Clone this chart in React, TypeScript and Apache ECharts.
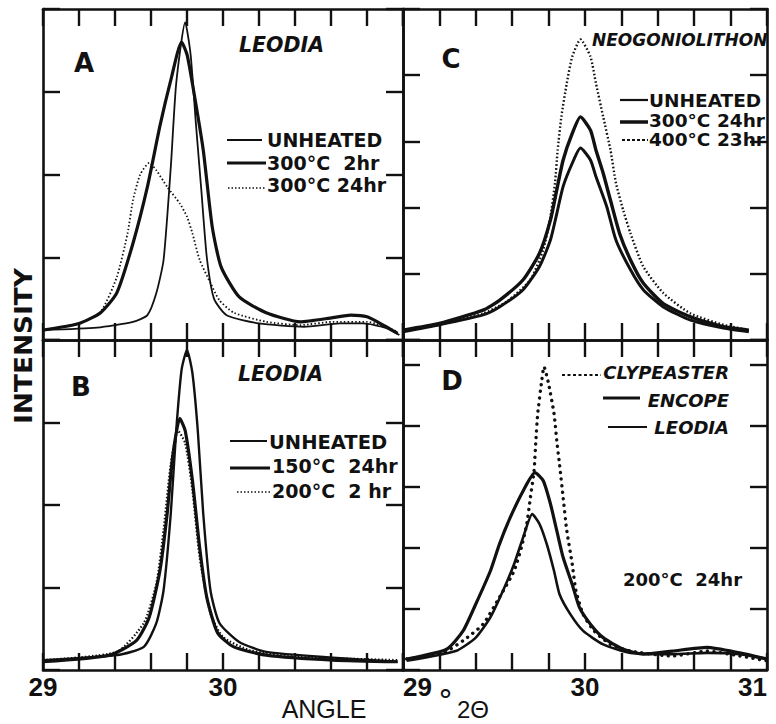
import React, { useEffect, useRef } from "react";
import * as echarts from "echarts";

type Pt = [number, number];

// ---------- axes ----------
const X_MIN = 29;
const X_MAX = 31;
const X_STEP = 0.2;
const B_TICK_LABELS = ["29", "30"];
const D_TICK_LABELS = ["29", "30", "31"];
const PANEL_Y_MAX = [4, 4, 5, 5.4];

// ---------- Panel A : LEODIA ----------
const A_UNHEATED: Pt[] = [
  [29.0, 0.12], [29.3, 0.15], [29.5, 0.22], [29.58, 0.3], [29.63, 0.57], [29.67, 0.97],
  [29.71, 2.09], [29.74, 3.1], [29.79, 3.84], [29.82, 3.45], [29.85, 2.6], [29.88, 1.8],
  [29.91, 1.0], [29.95, 0.5], [30.02, 0.3], [30.2, 0.2], [30.45, 0.16], [30.65, 0.2],
  [30.78, 0.2], [30.9, 0.15], [30.98, 0.06],
];
const A_300C_2HR: Pt[] = [
  [29.0, 0.12], [29.2, 0.2], [29.32, 0.33], [29.41, 0.57], [29.5, 1.17], [29.58, 1.85],
  [29.65, 2.59], [29.71, 3.14], [29.77, 3.6], [29.8, 3.45], [29.83, 3.1], [29.89, 2.3],
  [29.94, 1.37], [29.99, 0.88], [30.09, 0.52], [30.24, 0.33], [30.43, 0.22], [30.61, 0.27],
  [30.71, 0.3], [30.8, 0.28], [30.89, 0.18], [30.97, 0.08],
];
const A_300C_24HR: Pt[] = [
  [29.0, 0.12], [29.2, 0.2], [29.32, 0.34], [29.41, 0.76], [29.47, 1.29], [29.5, 1.69],
  [29.54, 2.0], [29.59, 2.14], [29.63, 2.05], [29.69, 1.85], [29.76, 1.65], [29.8, 1.49],
  [29.83, 1.29], [29.87, 0.97], [29.93, 0.69], [29.98, 0.48], [30.06, 0.33], [30.24, 0.22],
  [30.43, 0.18], [30.61, 0.22], [30.8, 0.22], [30.97, 0.1],
];

// ---------- Panel B : LEODIA ----------
const B_UNHEATED: Pt[] = [
  [29.0, 0.12], [29.41, 0.18], [29.56, 0.28], [29.63, 0.57], [29.67, 0.97], [29.71, 1.9],
  [29.74, 2.9], [29.77, 3.64], [29.8, 3.88], [29.83, 3.6], [29.86, 2.9], [29.89, 1.9],
  [29.93, 0.97], [29.98, 0.57], [30.09, 0.34], [30.24, 0.22], [30.61, 0.15], [30.97, 0.1],
];
const B_150C_24HR: Pt[] = [
  [29.0, 0.1], [29.37, 0.18], [29.52, 0.36], [29.59, 0.64], [29.65, 1.21], [29.69, 1.9],
  [29.72, 2.58], [29.76, 3.05], [29.79, 2.9], [29.83, 2.3], [29.87, 1.49], [29.91, 0.88],
  [29.97, 0.45], [30.06, 0.28], [30.24, 0.18], [30.61, 0.12], [30.97, 0.1],
];
const B_200C_2HR: Pt[] = [
  [29.0, 0.12], [29.41, 0.22], [29.56, 0.57], [29.63, 1.05], [29.67, 1.7], [29.71, 2.5],
  [29.75, 2.9], [29.79, 2.75], [29.83, 2.18], [29.87, 1.37], [29.93, 0.69], [30.0, 0.4],
  [30.15, 0.24], [30.43, 0.16], [30.97, 0.12],
];

// ---------- Panel C : NEOGONIOLITHON ----------
const C_UNHEATED: Pt[] = [
  [29.0, 0.125], [29.2, 0.23], [29.44, 0.38], [29.53, 0.5], [29.66, 0.76], [29.75, 1.11],
  [29.81, 1.51], [29.845, 1.91], [29.88, 2.32], [29.93, 2.67], [29.975, 2.9], [30.03, 2.72],
  [30.06, 2.47], [30.12, 2.01], [30.17, 1.51], [30.25, 1.06], [30.32, 0.76], [30.43, 0.5],
  [30.58, 0.3], [30.76, 0.18], [30.9, 0.125],
];
const C_300C_24HR: Pt[] = [
  [29.0, 0.15], [29.2, 0.25], [29.44, 0.45], [29.53, 0.6], [29.66, 0.91], [29.75, 1.31],
  [29.81, 1.81], [29.845, 2.27], [29.88, 2.72], [29.93, 3.12], [29.975, 3.37], [30.03, 3.17],
  [30.06, 2.87], [30.1, 2.52], [30.14, 2.11], [30.19, 1.61], [30.25, 1.21], [30.32, 0.86],
  [30.43, 0.55], [30.58, 0.35], [30.76, 0.2], [30.9, 0.15],
];
const C_400C_23HR: Pt[] = [
  [29.0, 0.15], [29.2, 0.23], [29.44, 0.4], [29.57, 0.58], [29.7, 0.91], [29.77, 1.36],
  [29.81, 1.86], [29.835, 2.37], [29.85, 2.87], [29.87, 3.37], [29.9, 3.88], [29.93, 4.28],
  [29.975, 4.54], [30.03, 4.28], [30.06, 3.88], [30.1, 3.37], [30.14, 2.87], [30.17, 2.37],
  [30.21, 1.96], [30.25, 1.61], [30.32, 1.11], [30.43, 0.71], [30.58, 0.4], [30.76, 0.23],
  [30.9, 0.15],
];

// ---------- Panel D : 200°C 24hr ----------
const D_CLYPEASTER: Pt[] = [
  [29.02, 0.18], [29.22, 0.28], [29.33, 0.48], [29.44, 0.75], [29.53, 1.19], [29.61, 1.62],
  [29.65, 2.0], [29.68, 2.39], [29.7, 2.82], [29.72, 3.26], [29.73, 3.75], [29.74, 4.19],
  [29.76, 4.68], [29.775, 4.96], [29.8, 4.68], [29.83, 4.19], [29.845, 3.75], [29.86, 3.37],
  [29.88, 2.82], [29.9, 2.28], [29.93, 1.73], [29.95, 1.3], [29.99, 0.91], [30.05, 0.64],
  [30.14, 0.42], [30.25, 0.31], [30.48, 0.23], [30.67, 0.31], [30.85, 0.23], [31.0, 0.15],
];
const D_ENCOPE: Pt[] = [
  [29.02, 0.18], [29.24, 0.34], [29.33, 0.64], [29.4, 1.08], [29.48, 1.62], [29.53, 2.06],
  [29.59, 2.5], [29.66, 2.93], [29.725, 3.23], [29.77, 3.1], [29.81, 2.72], [29.845, 2.28],
  [29.88, 1.84], [29.93, 1.4], [29.97, 1.02], [30.03, 0.75], [30.1, 0.53], [30.21, 0.34],
  [30.32, 0.26], [30.48, 0.31], [30.67, 0.37], [30.85, 0.28], [31.0, 0.18],
];
const D_LEODIA: Pt[] = [
  [29.02, 0.15], [29.29, 0.31], [29.4, 0.53], [29.48, 0.86], [29.55, 1.3], [29.61, 1.73],
  [29.66, 2.17], [29.71, 2.55], [29.75, 2.39], [29.79, 2.06], [29.83, 1.62], [29.86, 1.24],
  [29.92, 0.91], [29.99, 0.64], [30.1, 0.42], [30.25, 0.28], [30.48, 0.26], [30.67, 0.28],
  [30.85, 0.26], [31.0, 0.18],
];

const INK = "#111";
const SANS = "DejaVu Sans";
const HELV = "Liberation Sans";

const GRIDS = [
  { left: 43, top: 9, width: 360, height: 331 },
  { left: 43, top: 340, width: 360, height: 330 },
  { left: 403, top: 9, width: 364, height: 331 },
  { left: 403, top: 340, width: 364, height: 330 },
];

function lineSeries(name: string, data: Pt[], g: number, width: number, dash?: number[], round?: boolean) {
  return {
    type: "line",
    name,
    data,
    xAxisIndex: g * 2,
    yAxisIndex: g * 2,
    symbol: "none",
    showSymbol: false,
    smooth: 0.2,
    silent: true,
    lineStyle: {
      color: INK,
      width,
      type: dash ? dash : "solid",
      cap: round ? "round" : "butt",
      join: "round",
    },
  };
}

function labelFormatter(labels: string[] | null) {
  return (v: number) => {
    if (!labels) return "";
    const r = Math.round(v);
    if (Math.abs(v - r) > 1e-6) return "";
    return labels.indexOf(String(r)) >= 0 ? String(r) : "";
  };
}

function buildOption() {
  const xAxes: any[] = [];
  const yAxes: any[] = [];
  const axisLine = { show: true, onZero: false, lineStyle: { color: INK, width: 2.6 } };
  const axisTick = { show: true, inside: true, length: 17, lineStyle: { color: INK, width: 2.4 } };
  const tickLabels = [null, B_TICK_LABELS, null, D_TICK_LABELS];
  GRIDS.forEach((_, g) => {
    const labels = tickLabels[g];
    xAxes.push({
      gridIndex: g,
      type: "value",
      min: X_MIN,
      max: X_MAX,
      interval: X_STEP,
      position: "bottom",
      axisLine,
      axisTick,
      splitLine: { show: false },
      axisLabel: {
        show: !!labels,
        interval: 0,
        margin: 4,
        color: INK,
        fontFamily: HELV,
        fontWeight: "bold",
        fontSize: 26,
        formatter: labelFormatter(labels),
        alignMinLabel: g === 3 ? "left" : "center",
        alignMaxLabel: g === 3 ? "right" : "center",
      },
    });
    xAxes.push({
      gridIndex: g,
      type: "value",
      min: X_MIN,
      max: X_MAX,
      interval: X_STEP,
      position: "top",
      axisLine,
      axisTick,
      splitLine: { show: false },
      axisLabel: { show: false },
    });
    yAxes.push({
      gridIndex: g,
      type: "value",
      min: 0,
      max: PANEL_Y_MAX[g],
      interval: 1,
      position: "left",
      axisLine,
      axisTick,
      splitLine: { show: false },
      axisLabel: { show: false },
    });
    yAxes.push({
      gridIndex: g,
      type: "value",
      min: 0,
      max: PANEL_Y_MAX[g],
      interval: 1,
      position: "right",
      axisLine,
      axisTick,
      splitLine: { show: false },
      axisLabel: { show: false },
    });
  });

  const series = [
    lineSeries("UNHEATED", A_UNHEATED, 0, 1.8),
    lineSeries("300°C 2hr", A_300C_2HR, 0, 3.2),
    lineSeries("300°C 24hr", A_300C_24HR, 0, 1.8, [1.5, 2.2]),
    lineSeries("UNHEATED", B_UNHEATED, 1, 2.4),
    lineSeries("150°C 24hr", B_150C_24HR, 1, 3.2),
    lineSeries("200°C 2 hr", B_200C_2HR, 1, 2.2, [1.5, 2]),
    lineSeries("UNHEATED", C_UNHEATED, 2, 3),
    lineSeries("300°C 24hr", C_300C_24HR, 2, 3.4),
    lineSeries("400°C 23hr", C_400C_23HR, 2, 2.4, [1.6, 2.2]),
    lineSeries("CLYPEASTER", D_CLYPEASTER, 3, 3.4, [0.1, 6.5], true),
    lineSeries("ENCOPE", D_ENCOPE, 3, 3.2),
    lineSeries("LEODIA", D_LEODIA, 3, 2.6),
  ];

  const txt = (text: string, x: number, y: number, size: number, opts: any = {}) => ({
    type: "text",
    x,
    y,
    rotation: opts.rotation || 0,
    scaleX: opts.scaleX || 1,
    z: 10,
    style: {
      text,
      fill: INK,
      fontFamily: opts.family || SANS,
      fontWeight: opts.weight || "bold",
      fontStyle: opts.italic ? "italic" : "normal",
      fontSize: size,
      align: opts.align || "left",
      verticalAlign: "middle",
    },
  });
  const seg = (x1: number, x2: number, y: number, w: number, dash?: number[]) => ({
    type: "line",
    z: 10,
    shape: { x1, y1: y, x2, y2: y },
    style: { stroke: INK, lineWidth: w, lineDash: dash || null },
  });

  const graphic = [
    // panel letters
    txt("A", 84, 63, 26, { align: "center" }),
    txt("B", 81, 387, 26, { align: "center" }),
    txt("C", 451, 59, 26, { align: "center" }),
    txt("D", 452, 381, 26, { align: "center" }),
    // titles
    txt("LEODIA", 239, 45, 20.5, { italic: true }),
    txt("LEODIA", 238, 374, 20.5, { italic: true }),
    txt("NEOGONIOLITHON", 592, 40, 17, { italic: true }),
    // legend A
    seg(227, 262, 140, 1.8),
    seg(227, 266, 163, 3.2),
    seg(228, 266, 188, 1.6, [1.5, 2]),
    txt("UNHEATED", 267, 140, 19),
    txt("300°C  2hr", 267, 163, 19),
    txt("300°C 24hr", 267, 185, 19),
    // legend B
    seg(230, 267, 441, 1.8),
    seg(230, 270, 468, 3.2),
    seg(237, 271, 492, 1.6, [1.5, 2]),
    txt("UNHEATED", 269, 442, 19.5),
    txt("150°C  24hr", 272, 466, 19),
    txt("200°C  2 hr", 272, 491, 19),
    // legend C
    seg(620, 648, 100, 2.2),
    seg(620, 648, 122, 3.5),
    seg(622, 648, 140, 1.8, [3, 2]),
    txt("UNHEATED", 649, 100, 18.5),
    txt("300°C 24hr", 649, 120, 18.5),
    txt("400°C 23hr", 649, 139, 18.5),
    // legend D
    seg(562, 601, 375, 1.8, [3, 2.5]),
    seg(603, 640, 398, 3),
    seg(608, 647, 427, 1.8),
    txt("CLYPEASTER", 729, 372, 18, { italic: true, align: "right" }),
    txt("ENCOPE", 729, 400, 18, { italic: true, align: "right" }),
    txt("LEODIA", 729, 427, 18, { italic: true, align: "right" }),
    txt("200°C  24hr", 623, 579, 18),
    // axis titles
    txt("INTENSITY", 24, 346, 24, { rotation: Math.PI / 2, align: "center", scaleX: 1.1 }),
    txt("ANGLE", 324, 709, 25, { family: HELV, weight: "normal", align: "center" }),
    txt("°", 438, 700, 30, { family: SANS, weight: "normal" }),
    txt("2Θ", 457, 709, 24, { family: HELV, weight: "normal" }),
  ];

  return {
    animation: false,
    backgroundColor: "#fff",
    grid: GRIDS.map((g) => ({ ...g, outerBoundsMode: "none", containLabel: false })),
    xAxis: xAxes,
    yAxis: yAxes,
    series,
    graphic,
  };
}

export default function App() {
  const ref = useRef<HTMLDivElement>(null);
  useEffect(() => {
    if (!ref.current) return;
    const chart = echarts.init(ref.current, null, { renderer: "svg" });
    chart.setOption(buildOption() as any);
    return () => chart.dispose();
  }, []);
  return (
    <div
      ref={ref}
      style={{ position: "absolute", left: 0, top: 0, width: 776, height: 724, background: "#fff" }}
    />
  );
}
